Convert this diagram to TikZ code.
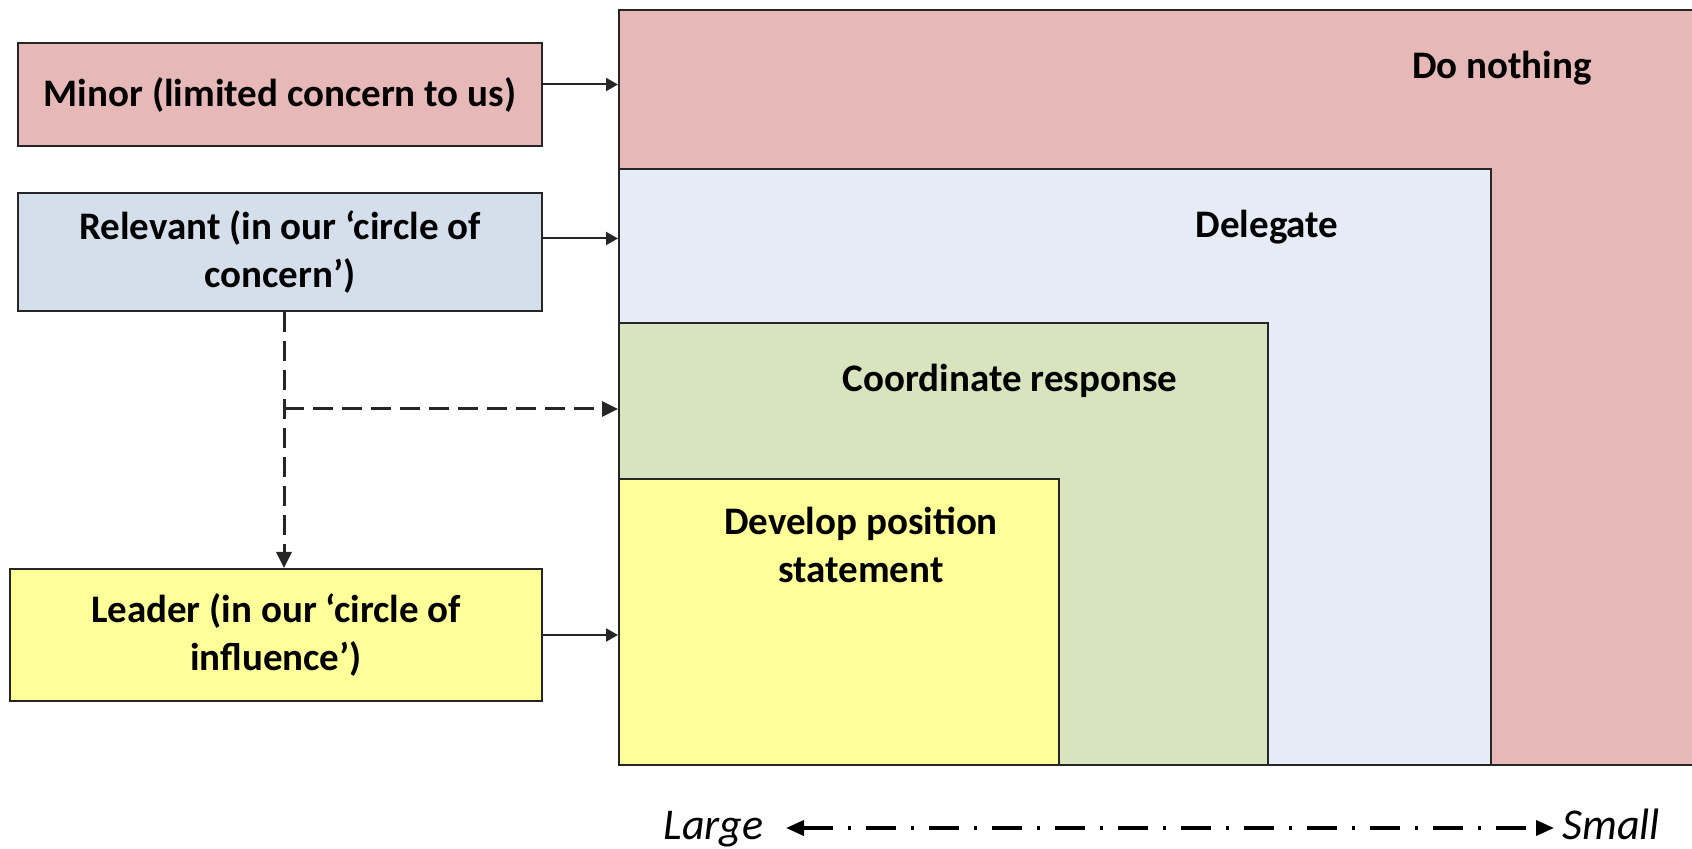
\documentclass[tikz,border=0pt]{standalone}
\usepackage{fontspec}
\setmainfont{Carlito}
\usetikzlibrary{arrows.meta}
\definecolor{pinkc}{HTML}{E6B8B7}
\definecolor{bluearea}{HTML}{E5ECF6}
\definecolor{bluebox}{HTML}{D5DFEB}
\definecolor{greenc}{HTML}{D7E4BD}
\definecolor{yellowc}{HTML}{FFFF99}
\definecolor{linec}{HTML}{262626}
\begin{document}
\begin{tikzpicture}[x=0.5pt,y=-0.5pt,
  box/.style={draw=linec, line width=1pt, inner sep=0pt, font=\bfseries\fontsize{19.5}{23.7}\selectfont, align=center},
  area/.style={draw=linec, line width=1pt, inner sep=0pt, anchor=north west},
  lab/.style={font=\bfseries\fontsize{19.5}{23.7}\selectfont, align=center, inner sep=0pt},
  scalelab/.style={font=\itshape\fontsize{22}{26}\selectfont, inner sep=0pt},
  arr/.style={line width=1pt, draw=linec, -{Triangle[length=6pt,width=6.5pt]}},
  darr/.style={line width=1.5pt, draw=linec, dash pattern=on 10pt off 4.5pt, -{Triangle[length=8pt,width=7.5pt]}},
  ddarr/.style={line width=1.8pt, draw=black, dash pattern=on 15pt off 7.5pt on 1.5pt off 7.5pt, {Triangle[length=9pt,width=7.5pt]}-{Triangle[length=9pt,width=7.5pt]}},
]
\useasboundingbox (0,0) rectangle (1692,849);
% nested areas
\node[area, fill=pinkc, minimum width=541pt, minimum height=377.5pt] (pink) at (618,9) {};
\node[area, fill=bluearea, minimum width=436pt, minimum height=298pt] (blue) at (618,168) {};
\node[area, fill=greenc, minimum width=324.5pt, minimum height=221pt] (green) at (618,322) {};
\node[area, fill=yellowc, minimum width=220pt, minimum height=143pt] (yellow) at (618,478) {};
% area labels
\node[lab] (tnothing) at (1502,68) {Do nothing};
\node[lab] (tdelegate) at (1267,227) {Delegate};
\node[lab] (tcoord) at (1010,381) {Coordinate response};
\node[lab] (tdevelop) at (861,545) {Develop position\\statement};
% left boxes
\node[box, fill=pinkc, minimum width=262pt, minimum height=51.5pt] (minor) at (280,94.5) {Minor (limited concern to us)};
\node[box, fill=bluebox, minimum width=262pt, minimum height=59pt] (relevant) at (280,252) {Relevant (in our ‘circle of\\concern’)};
\node[box, fill=yellowc, minimum width=266pt, minimum height=66pt] (leader) at (276,635) {Leader (in our ‘circle of\\influence’)};
% connectors
\draw[arr] ([yshift=5pt]minor.east) coordinate (a1) -- (a1 -| pink.west);
\draw[arr] ([yshift=6.75pt]relevant.east) coordinate (a2) -- (a2 -| blue.west);
\draw[arr] (leader.east) coordinate (a3) -- (a3 -| yellow.west);
\draw[darr] ([xshift=2pt]relevant.south) coordinate (d0) -- (d0 |- leader.north);
\coordinate (j) at (284,409);
\draw[darr] (j) -- (j -| green.west);
% scale
\node[scalelab, anchor=base east] (large) at (764,839) {Large};
\node[scalelab, anchor=base west] (small) at (1562,839) {Small};
\draw[ddarr] ([xshift=11pt,yshift=5.5pt]large.base east) -- ([xshift=-4pt,yshift=5.5pt]small.base west);
\end{tikzpicture}
\end{document}
